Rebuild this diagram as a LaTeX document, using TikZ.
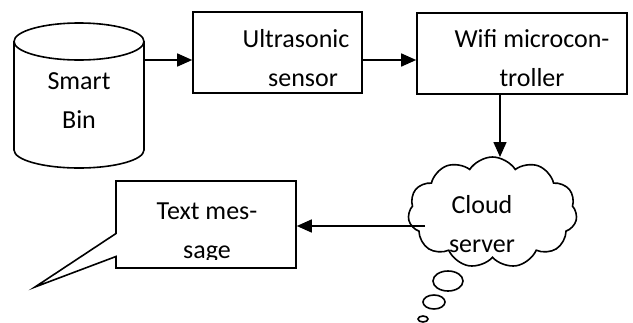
\documentclass[tikz,border=0pt]{standalone}
\usepackage{fontspec}
\setmainfont{Carlito}
\usetikzlibrary{arrows.meta,shapes.symbols,shapes.callouts}
\begin{document}
\begin{tikzpicture}[x=1pt,y=-1pt,
  line width=1.6pt,
  every node/.style={font=\fontsize{26}{39}\selectfont},
  box/.style={draw,rectangle,inner sep=0pt},
  txt/.style={align=center,inner sep=0pt},
  arr/.style={-{Triangle[length=15pt,width=13pt]}}]
\useasboundingbox (0,0) rectangle (633,322);
% Smart bin cylinder
\draw (14,41.5) -- (14,150) arc[start angle=180,end angle=360,x radius=65,y radius=-18] -- (144,41.5);
\draw (79,41.5) ellipse[x radius=65,y radius=18.5];
\node[inner sep=0pt,minimum width=130pt,minimum height=145pt] (bin) at (79,95.5) {};
\node[txt] (bintext) at (79,101) {Smart\\Bin};
% boxes
\node[box,minimum width=169pt,minimum height=81pt] (ultra) at (277.5,52.5) {};
\node[txt] (ultratext) at (296,58) {Ultrasonic\\\hspace*{14pt}sensor};
\node[box,minimum width=210pt,minimum height=81pt] (wifi) at (522,53.5) {};
\node[txt] (wifitext) at (532,58.5) {Wifi microcon-\\troller};
% cloud
\node[draw,cloud,cloud puffs=11,cloud puff arc=115,aspect=1.5,minimum width=169pt,minimum height=111pt,inner sep=0pt] (cloud) at (492.5,212.5) {};
\node[txt] (cloudtext) at (482,224) {Cloud\\server};
\draw (448,281) ellipse[x radius=15,y radius=10];
\draw (434,302) ellipse[x radius=11,y radius=7];
\draw (423,319) ellipse[x radius=5,y radius=3];
% callout
\node[draw,rectangle callout,callout absolute pointer={(35,287)},callout pointer width=23pt,minimum width=180pt,minimum height=87pt,inner sep=0pt] (msg) at (206,224.5) {};
\begin{scope}
\clip (116,181) rectangle (296,259);
\node[txt] (msgtext) at (207,232.5) {Text mes-\\sage};
\end{scope}
% connectors
\coordinate (ay) at (0,60);
\draw[arr] (bin.east |- ay) -- (ultra.west |- ay);
\draw[arr] (ultra.east |- ay) -- (wifi.west |- ay);
\coordinate (c1) at (500,157);
\draw[arr] (wifi.south -| c1) -- (c1);
\coordinate (c2) at (425,226);
\draw[arr] (c2) -- (msg.east |- c2);
\end{tikzpicture}
\end{document}
